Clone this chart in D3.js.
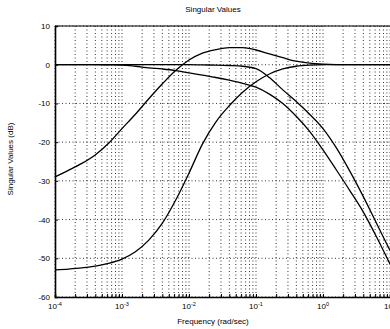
<!DOCTYPE html>
<html><head><meta charset="utf-8">
<script src="https://cdn.jsdelivr.net/npm/d3@7"></script>
<style>body{margin:0;background:#fff}svg{display:block}text{font-family:"Liberation Sans",Arial,sans-serif;fill:#000}</style>
</head><body>
<svg id="c" width="390" height="329"></svg>
<script>
// log10(frequency) sample points and singular values (dB)
const logW = [-4,-3.8,-3.6,-3.4,-3.2,-3.0,-2.8,-2.6,-2.4,-2.2,-2.0,-1.8,-1.6,-1.4,-1.2,-1.0,-0.8,-0.6,-0.4,-0.2,0,0.2,0.4,0.6,0.8,1.0];
const svPeak = [-29,-27.3,-25.5,-23.3,-20.3,-16.5,-12.8,-8.8,-5,-1.5,1.2,3.0,3.9,4.4,4.4,3.8,2.8,1.8,0.9,0.4,0.15,0.03,0,0,0,0];
const svLow1 = [0,0,0,0,-0.05,-0.1,-0.4,-0.8,-1.1,-1.5,-2.1,-2.7,-3.3,-4.0,-4.8,-5.8,-7.6,-10,-13.3,-17.2,-22,-27.2,-32.5,-38,-44.5,-51.5];
const svLow2 = [0,0,0,0,0,0,0,0,0,0,0,-0.05,-0.1,-0.2,-0.4,-1.0,-3.3,-6.5,-9.5,-12.8,-16.5,-21.5,-27.5,-34,-41,-48];
const svRise = [-53,-52.8,-52.5,-52,-51.3,-50.2,-48.3,-45.3,-41,-35,-28,-20.5,-14.8,-10.6,-7.1,-4.4,-2.4,-1.1,-0.4,-0.1,0,0,0,0,0,0];
const yTicks = [10,0,-10,-20,-30,-40,-50,-60];
const xDecades = [-4,-3,-2,-1,0,1];

const svg = d3.select("#c");
const x = d3.scaleLog().domain([1e-4,1e1]).range([55,390]);
const y = d3.scaleLinear().domain([-60,10]).range([297,26]);

// grid
const minor = [];
for (let k=-4;k<1;k++) for (let i=1;i<10;i++) minor.push(i*Math.pow(10,k));
minor.push(10);
const g = svg.append("g");
g.selectAll(".vg").data(minor).join("line")
  .attr("x1",d=>x(d)).attr("x2",d=>x(d)).attr("y1",y(10)).attr("y2",y(-60))
  .attr("stroke","#000").attr("stroke-width",0.8).attr("stroke-dasharray","1,2.5");
g.selectAll(".hg").data(yTicks).join("line")
  .attr("x1",x(1e-4)).attr("x2",x(1e1)).attr("y1",d=>y(d)).attr("y2",d=>y(d))
  .attr("stroke","#000").attr("stroke-width",0.8).attr("stroke-dasharray","1,2.5");

// axes
const yAx = d3.axisLeft(y).tickValues(yTicks).tickSize(-3).tickFormat(d=>d);
svg.append("g").attr("transform",`translate(55,0)`).call(yAx)
  .call(s=>{s.select(".domain").attr("stroke-width",1.6);s.selectAll("text").attr("font-size",8).attr("x",-5);});
const xAx = d3.axisBottom(x).tickValues(minor).tickSize(-3).tickFormat("");
svg.append("g").attr("transform",`translate(0,297)`).call(xAx)
  .call(s=>s.select(".domain").attr("stroke-width",1.6));
svg.append("line").attr("x1",55).attr("x2",390).attr("y1",26).attr("y2",26).attr("stroke","#000").attr("stroke-width",1.2);

// x labels
const xl = svg.append("g").selectAll("text").data(xDecades).join("text")
  .attr("x",d=>x(Math.pow(10,d))).attr("y",309).attr("text-anchor","middle").attr("font-size",8);
xl.append("tspan").text("10");
xl.append("tspan").attr("dy",-3).attr("font-size",5.5).text(d=>d===1?"1":d);

// curves
const line = d3.line().x(d=>x(Math.pow(10,d[0]))).y(d=>y(d[1])).curve(d3.curveMonotoneX);
[svPeak,svLow1,svLow2,svRise].forEach(s=>{
  svg.append("path").attr("d",line(logW.map((w,i)=>[w,s[i]])))
    .attr("fill","none").attr("stroke","#000").attr("stroke-width",1.3);
});

// small annotation mark seen in the scan
svg.append("text").attr("x",x(Math.pow(10,-0.52))).attr("y",y(-9.5)).attr("font-size",6).text("1");

svg.append("text").attr("x",213).attr("y",12).attr("text-anchor","middle").attr("font-size",8).text("Singular Values");
svg.append("text").attr("x",213).attr("y",324).attr("text-anchor","middle").attr("font-size",8).text("Frequency (rad/sec)");
svg.append("text").attr("transform","translate(13,159) rotate(-90)").attr("text-anchor","middle").attr("font-size",8).text("Singular Values (dB)");
</script>
</body></html>
